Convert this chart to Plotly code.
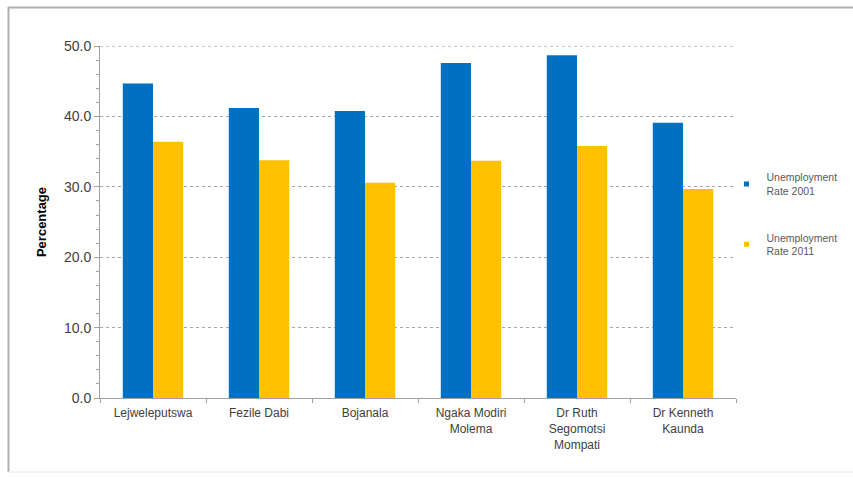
import plotly.graph_objects as go

categories = ["Lejweleputswa", "Fezile Dabi", "Bojanala", "Ngaka Modiri<br>Molema",
              "Dr Ruth<br>Segomotsi<br>Mompati", "Dr Kenneth<br>Kaunda"]
rate_2001 = [44.7, 41.2, 40.8, 47.6, 48.7, 39.1]
rate_2011 = [36.4, 33.8, 30.6, 33.7, 35.8, 29.7]
series_names = ["Unemployment<br>Rate 2001", "Unemployment<br>Rate 2011"]
colors = ["#0070C0", "#FFC000"]
y_ticks = [0, 10, 20, 30, 40, 50]

fig = go.Figure()
for vals, name, col in zip([rate_2001, rate_2011], series_names, colors):
    fig.add_trace(go.Bar(x=categories, y=vals, name=name, marker_color=col,
                         marker_line_width=0, showlegend=False))
for name, col in zip(series_names, colors):
    fig.add_trace(go.Scatter(x=[None], y=[None], mode="markers", name=name,
                             legendgroup=name,
                             marker=dict(symbol="square", size=5, color=col)))

font_family = "Liberation Sans, Arial, sans-serif"
fig.update_layout(
    width=853, height=477,
    margin=dict(l=100, r=117, t=46, b=79, autoexpand=False),
    paper_bgcolor="white", plot_bgcolor="white",
    barmode="group", bargap=0.43, bargroupgap=0,
    font=dict(family=font_family, color="#404040"),
    showlegend=True,
    legend=dict(x=0.985, y=0.665, xanchor="left", yanchor="top",
                font=dict(size=10.5, color="#595959"), tracegroupgap=30,
                itemwidth=30, bgcolor="rgba(0,0,0,0)"),
    xaxis=dict(showline=True, linecolor="#A0A0A0", linewidth=1,
               ticks="outside", tickson="boundaries", ticklen=4, tickcolor="#A0A0A0",
               tickfont=dict(size=12, color="#404040"), showgrid=False,
               ticklabelstandoff=4, fixedrange=True),
    yaxis=dict(range=[0, 50.02], tickvals=y_ticks,
               ticktext=[f"{v:.1f}" for v in y_ticks],
               tickfont=dict(size=14, color="#404040"),
               showline=True, linecolor="#A0A0A0", linewidth=1,
               ticks="outside", ticklen=5, tickcolor="#A0A0A0",
               minor=dict(dtick=2, ticks="outside", ticklen=3, tickcolor="#A0A0A0"),
               showgrid=True, gridcolor="#A6A6A6", griddash="3px,3px", gridwidth=1,
               zeroline=False,
               title=dict(text="<b>Percentage</b>", font=dict(size=13, color="#000000"),
                          standoff=14)),
)

# top gridline at the last tick
fig.add_shape(type="line", xref="paper", yref="y", x0=0, x1=1,
              y0=y_ticks[-1], y1=y_ticks[-1], layer="below",
              line=dict(color="#A6A6A6", width=1, dash="3px,3px"))

# outer frame
fig.add_shape(type="line", xref="paper", yref="paper",
              x0=(8 - 100) / 636, x1=(853 - 100) / 636,
              y0=(398 - 7.5) / 352, y1=(398 - 7.5) / 352,
              line=dict(color="#B0B0B0", width=2))
fig.add_shape(type="line", xref="paper", yref="paper",
              x0=(8.5 - 100) / 636, x1=(8.5 - 100) / 636,
              y0=(398 - 7) / 352, y1=(398 - 472) / 352,
              line=dict(color="#B0B0B0", width=2))
fig.add_shape(type="line", xref="paper", yref="paper",
              x0=(8 - 100) / 636, x1=(853 - 100) / 636,
              y0=(398 - 472) / 352, y1=(398 - 472) / 352,
              line=dict(color="#E8E8E8", width=1))

fig.write_html("out.html")
